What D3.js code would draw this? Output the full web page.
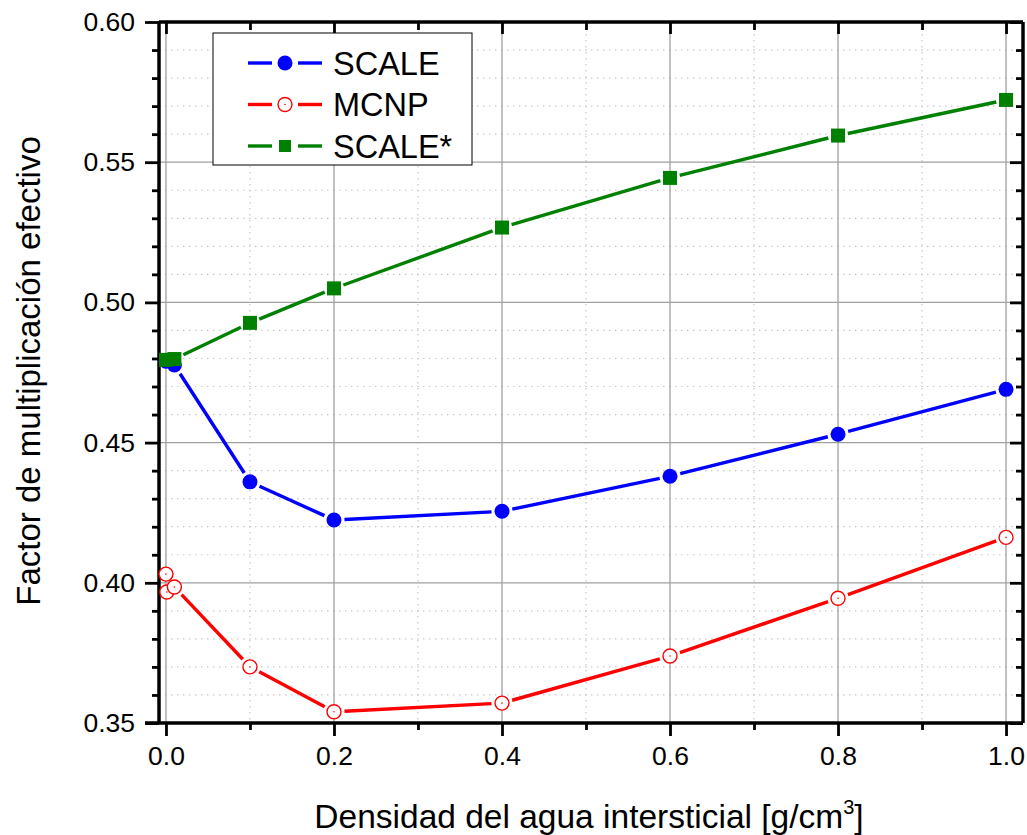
<!DOCTYPE html>
<html>
<head>
<meta charset="utf-8">
<script src="https://cdn.jsdelivr.net/npm/d3@7"></script>
<style>
  body { margin: 0; background: #fff; }
  svg text { font-family: "Liberation Sans", Arial, sans-serif; fill: #000; }
</style>
</head>
<body>
<svg id="chart" width="1027" height="835"></svg>
<script>
// Keff vs interstitial water density

const scaleX = [0, 0.01, 0.1, 0.2, 0.4, 0.6, 0.8, 1.0];
const scaleY = [0.4790, 0.4777, 0.4360, 0.4224, 0.4255, 0.4380, 0.4530, 0.4690];

const mcnpX = [0, 0.001, 0.01, 0.1, 0.2, 0.4, 0.6, 0.8, 1.0];
const mcnpY = [0.4031, 0.3967, 0.3985, 0.3700, 0.3540, 0.3571, 0.3739, 0.3945, 0.4162];

const scaleStarX = [0, 0.01, 0.1, 0.2, 0.4, 0.6, 0.8, 1.0];
const scaleStarY = [0.4795, 0.4798, 0.4927, 0.5050, 0.5267, 0.5444, 0.5595, 0.5722];

const xMajorTicks = [0, 0.2, 0.4, 0.6, 0.8, 1.0];
const xMinorTicks = [0.1, 0.3, 0.5, 0.7, 0.9];
const yMajorTicks = [0.35, 0.40, 0.45, 0.50, 0.55, 0.60];
const yMinorTicks = d3.range(36, 60).filter(v => v % 5 !== 0).map(v => v / 100);

const series = [
    { name: "SCALE", xs: scaleX, ys: scaleY, color: "#0000ff", marker: "dot" },
    { name: "MCNP", xs: mcnpX, ys: mcnpY, color: "#ff0000", marker: "ring" },
    { name: "SCALE*", xs: scaleStarX, ys: scaleStarY, color: "#008000", marker: "square" }
];

const L = 159, R = 1023, T = 22, B = 723;
const svg = d3.select("#chart");

const x = d3.scaleLinear().domain([-0.0083, 1.0202]).range([L, R]);
const y = d3.scaleLinear().domain([0.35, 0.60]).range([B, T]);

// --- grid ---
const grid = svg.append("g");
xMinorTicks.forEach(v => {
    grid.append("line")
        .attr("x1", x(v)).attr("x2", x(v)).attr("y1", T).attr("y2", B)
        .attr("stroke", "#c8c8c8").attr("stroke-width", 1.2)
        .attr("stroke-dasharray", "1.5,4.5");
});
yMinorTicks.forEach(v => {
    grid.append("line")
        .attr("x1", L).attr("x2", R).attr("y1", y(v)).attr("y2", y(v))
        .attr("stroke", "#c8c8c8").attr("stroke-width", 1.2)
        .attr("stroke-dasharray", "1.5,4.5");
});
xMajorTicks.forEach(v => {
    grid.append("line")
        .attr("x1", x(v)).attr("x2", x(v)).attr("y1", T).attr("y2", B)
        .attr("stroke", "#a0a0a0").attr("stroke-width", 1.3);
});
yMajorTicks.slice(1, -1).forEach(v => {
    grid.append("line")
        .attr("x1", L).attr("x2", R).attr("y1", y(v)).attr("y2", y(v))
        .attr("stroke", "#a0a0a0").attr("stroke-width", 1.3);
});

// --- axes ---
const axBottom = svg.append("g").attr("transform", `translate(0,${B})`);
axBottom.call(d3.axisBottom(x).tickValues(xMinorTicks).tickSize(7).tickFormat(""));
axBottom.append("g").call(d3.axisBottom(x).tickValues(xMajorTicks).tickSize(13).tickPadding(10).tickFormat(d3.format(".1f")));

const axTop = svg.append("g").attr("transform", `translate(0,${T})`);
axTop.call(d3.axisTop(x).tickValues(xMinorTicks).tickSize(-8).tickFormat(""));
axTop.append("g").call(d3.axisTop(x).tickValues(xMajorTicks).tickSize(-12).tickFormat(""));

const axLeft = svg.append("g").attr("transform", `translate(${L},0)`);
axLeft.call(d3.axisLeft(y).tickValues(yMinorTicks).tickSize(7).tickFormat(""));
axLeft.append("g").call(d3.axisLeft(y).tickValues(yMajorTicks).tickSize(14).tickPadding(10).tickFormat(d3.format(".2f")));

const axRight = svg.append("g").attr("transform", `translate(${R},0)`);
axRight.call(d3.axisRight(y).tickValues(yMinorTicks).tickSize(-7).tickFormat(""));
axRight.append("g").call(d3.axisRight(y).tickValues(yMajorTicks).tickSize(-13).tickFormat(""));

svg.selectAll(".domain").attr("stroke", "#000").attr("stroke-width", 3);
svg.selectAll(".tick line").attr("stroke", "#000").attr("stroke-width", 2.8);
svg.selectAll(".tick text").attr("font-size", "26.5px").attr("font-family", "Liberation Sans, Arial, sans-serif");
// plain domain lines without outer ticks
axBottom.selectAll(".domain").attr("d", `M${L - 14},0H${R}`);
axTop.selectAll(".domain").attr("d", `M${L},0H${R}`);
axLeft.selectAll(".domain").attr("d", `M0,${T}V${B}`);
axRight.selectAll(".domain").attr("d", `M0,${T}V${B}`);

// --- series with gaps around markers ---
const GAP = 3;
function markerR(m) { return m === "square" ? 7 : 7.5; }

function drawMarker(g, m, cx, cy, color) {
    if (m === "dot") {
        g.append("circle").attr("cx", cx).attr("cy", cy).attr("r", 7.5).attr("fill", color);
    } else if (m === "ring") {
        g.append("circle").attr("cx", cx).attr("cy", cy).attr("r", 7)
            .attr("fill", "#fff").attr("stroke", color).attr("stroke-width", 1.4);
        g.append("circle").attr("cx", cx).attr("cy", cy).attr("r", 0.8).attr("fill", color);
    } else {
        g.append("rect").attr("x", cx - 7).attr("y", cy - 7).attr("width", 14).attr("height", 14).attr("fill", color);
    }
}

const plot = svg.append("g");
series.forEach(s => {
    const pts = s.xs.map((v, i) => [x(v), y(s.ys[i])]);
    const gap = markerR(s.marker) + GAP;
    for (let i = 0; i < pts.length - 1; i++) {
        const [x0, y0] = pts[i], [x1, y1] = pts[i + 1];
        const len = Math.hypot(x1 - x0, y1 - y0);
        if (len <= 2 * gap) continue;
        const ux = (x1 - x0) / len, uy = (y1 - y0) / len;
        plot.append("line")
            .attr("x1", x0 + ux * gap).attr("y1", y0 + uy * gap)
            .attr("x2", x1 - ux * gap).attr("y2", y1 - uy * gap)
            .attr("stroke", s.color).attr("stroke-width", 3.4);
    }
});
series.forEach(s => {
    s.xs.forEach((v, i) => drawMarker(plot, s.marker, x(v), y(s.ys[i]), s.color));
});

// --- legend ---
const lg = svg.append("g").attr("transform", "translate(213,33)");
lg.append("rect").attr("width", 259).attr("height", 132)
    .attr("fill", "#fff").attr("stroke", "#000").attr("stroke-width", 1);
series.forEach((s, i) => {
    const ly = 30 + i * 41.5;
    lg.append("line").attr("x1", 35).attr("x2", 59).attr("y1", ly).attr("y2", ly)
        .attr("stroke", s.color).attr("stroke-width", 3.4);
    lg.append("line").attr("x1", 85).attr("x2", 109).attr("y1", ly).attr("y2", ly)
        .attr("stroke", s.color).attr("stroke-width", 3.4);
    if (s.marker === "square") {
        lg.append("rect").attr("x", 72 - 6).attr("y", ly - 6).attr("width", 12).attr("height", 12).attr("fill", s.color);
    } else {
        drawMarker(lg, s.marker, 72, ly, s.color);
    }
    lg.append("text").attr("x", 120).attr("y", ly + 11.5)
        .attr("font-size", "32.5px").text(s.name);
});

// --- axis titles ---
const xt = svg.append("text")
    .attr("x", 589).attr("y", 828)
    .attr("text-anchor", "middle").attr("font-size", "33.5px");
xt.append("tspan").text("Densidad del agua intersticial [g/cm");
xt.append("tspan").attr("dy", -14).attr("font-size", "20px").text("3");
xt.append("tspan").attr("dy", 14).text("]");

svg.append("text")
    .attr("transform", "translate(40,371) rotate(-90)")
    .attr("text-anchor", "middle").attr("font-size", "33px")
    .text("Factor de multiplicación efectivo");
</script>
</body>
</html>
